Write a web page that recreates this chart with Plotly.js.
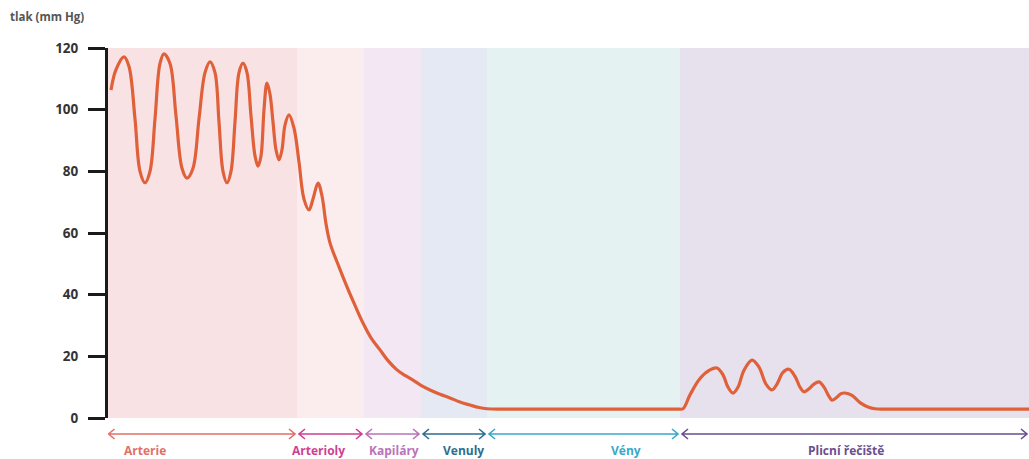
<!DOCTYPE html>
<html>
<head>
<meta charset="utf-8">
<script src="https://cdn.plot.ly/plotly-3.0.1.min.js"></script>
<style>
  html, body { margin: 0; padding: 0; background: #ffffff; }
  #chart { width: 1029px; height: 459px; }
</style>
</head>
<body>
<div id="chart"></div>
<script>
// Position along the circulation (arbitrary units) and pressure (mm Hg)
const pressX = [3,8,16,21,27,32,37,42,47,52,56,62,68,74,79,85,91,97,102,107,111,115,119,123,127,131,135,139,143,147,150,153,156,159,162,165,168,171,174,177,181,186,191,196,201,205,210,214,218,222,231,239,247,255,263,272,280,289,297,305,313,322,332,342,352,362,371,379,395,420,480,540,560,570,575,582,592,602,609,615,620,625,630,636,644,651,658,664,669,675,681,687,692,696,701,706,711,716,721,724,728,733,737,744,752,760,767,779,850,921];
const pressY = [106.4,113,117.1,114,97,80,76.3,80,97,115,118.1,115,98,81,77.8,81,97,112,115.5,112,96,80,76.3,80,96,112,115.1,112,98,85,81.7,85,100,108.6,105,96,87,83.7,87,95,98.3,94,83,71,67.5,71,76.2,72,63,56.8,49,42.5,36.5,30.8,26,22.1,18.6,15.6,13.8,12.3,10.6,9.1,7.7,6.5,5.2,4.2,3.4,3.0,2.9,2.9,2.9,2.9,2.9,2.9,3.0,7.5,12.8,15.6,16.2,14,10,8.1,10,15.5,18.8,16.5,11,9.1,11,14.8,15.8,13.5,10,8.5,9.5,11,11.7,10,7,5.8,6.5,7.9,8.1,7.3,5,3.6,3.0,2.9,2.9,2.9];

// Vessel segments
const segNames  = ["Arterie", "Arterioly", "Kapiláry", "Venuly", "Vény", "Plicní řečiště"];
const segEdges  = [0, 189, 256, 313, 379, 572, 921];
const segLabelX = [37, 210, 286, 355, 518, 738];
const segFill   = ["#f9e2e4", "#fbeded", "#f2e7f2", "#e5e9f3", "#e4f2f2", "#e7e1ed"];
const segColor  = ["#e2706a", "#cf3f93", "#b974b8", "#2e6e8e", "#3aa8c6", "#6a4f8e"];

const yTicks = [0, 20, 40, 60, 80, 100, 120];

const plotH = 370; // px height of plot area
const px2paperY = p => -p / plotH;

const shapes = [];
const annotations = [];
for (let i = 0; i < segNames.length; i++) {
  shapes.push({
    type: 'rect', xref: 'x', yref: 'y',
    x0: segEdges[i], x1: segEdges[i + 1], y0: 0, y1: 120,
    fillcolor: segFill[i], line: { width: 0 }, layer: 'below'
  });
  const a0 = segEdges[i] + (i === 0 ? 0.5 : 2);
  const a1 = segEdges[i + 1] - 2;
  const ya = px2paperY(16), yh = 5 / plotH, dx = 6;
  shapes.push({
    type: 'path', xref: 'x', yref: 'paper',
    path: `M ${a0 + dx},${ya + yh} L ${a0},${ya} L ${a0 + dx},${ya - yh} M ${a0},${ya} L ${a1},${ya} M ${a1 - dx},${ya + yh} L ${a1},${ya} L ${a1 - dx},${ya - yh}`,
    line: { color: segColor[i], width: 1.6 }
  });
  annotations.push({
    x: segLabelX[i], xref: 'x', y: px2paperY(32), yref: 'paper',
    xanchor: 'center', yanchor: 'middle', showarrow: false,
    text: segNames[i],
    font: { family: 'Open Sans, sans-serif', size: 12, color: segColor[i], weight: 700 }
  });
}
annotations.push({
  x: -100 / 921, xref: 'paper', xanchor: 'left',
  y: 1 + 31 / plotH, yref: 'paper', yanchor: 'middle',
  showarrow: false, text: 'tlak (mm Hg)',
  font: { family: 'Open Sans, sans-serif', size: 11.5, color: '#555555', weight: 700 }
});

const trace = {
  x: pressX, y: pressY, type: 'scatter', mode: 'lines',
  line: { color: '#e0603a', width: 3.2, shape: 'spline', smoothing: 1 },
  hoverinfo: 'skip'
};

const layout = {
  width: 1029, height: 459,
  margin: { l: 108, r: 0, t: 48, b: 41, pad: 0 },
  paper_bgcolor: '#ffffff', plot_bgcolor: '#ffffff',
  showlegend: false,
  xaxis: { range: [0, 921], visible: false, fixedrange: true },
  yaxis: {
    range: [0, 120], tickmode: 'array', tickvals: yTicks, ticktext: yTicks.map(String),
    ticks: 'outside', ticklen: 17, tickwidth: 3, tickcolor: '#1a1a1a',
    showline: true, linewidth: 3, linecolor: '#1a1a1a',
    showgrid: false, zeroline: false, ticklabelstandoff: 7,
    tickfont: { family: 'Open Sans, sans-serif', size: 13.5, color: '#333333', weight: 700 }
  },
  shapes: shapes,
  annotations: annotations
};

Plotly.newPlot('chart', [trace], layout, { staticPlot: true, displayModeBar: false });
</script>
</body>
</html>
